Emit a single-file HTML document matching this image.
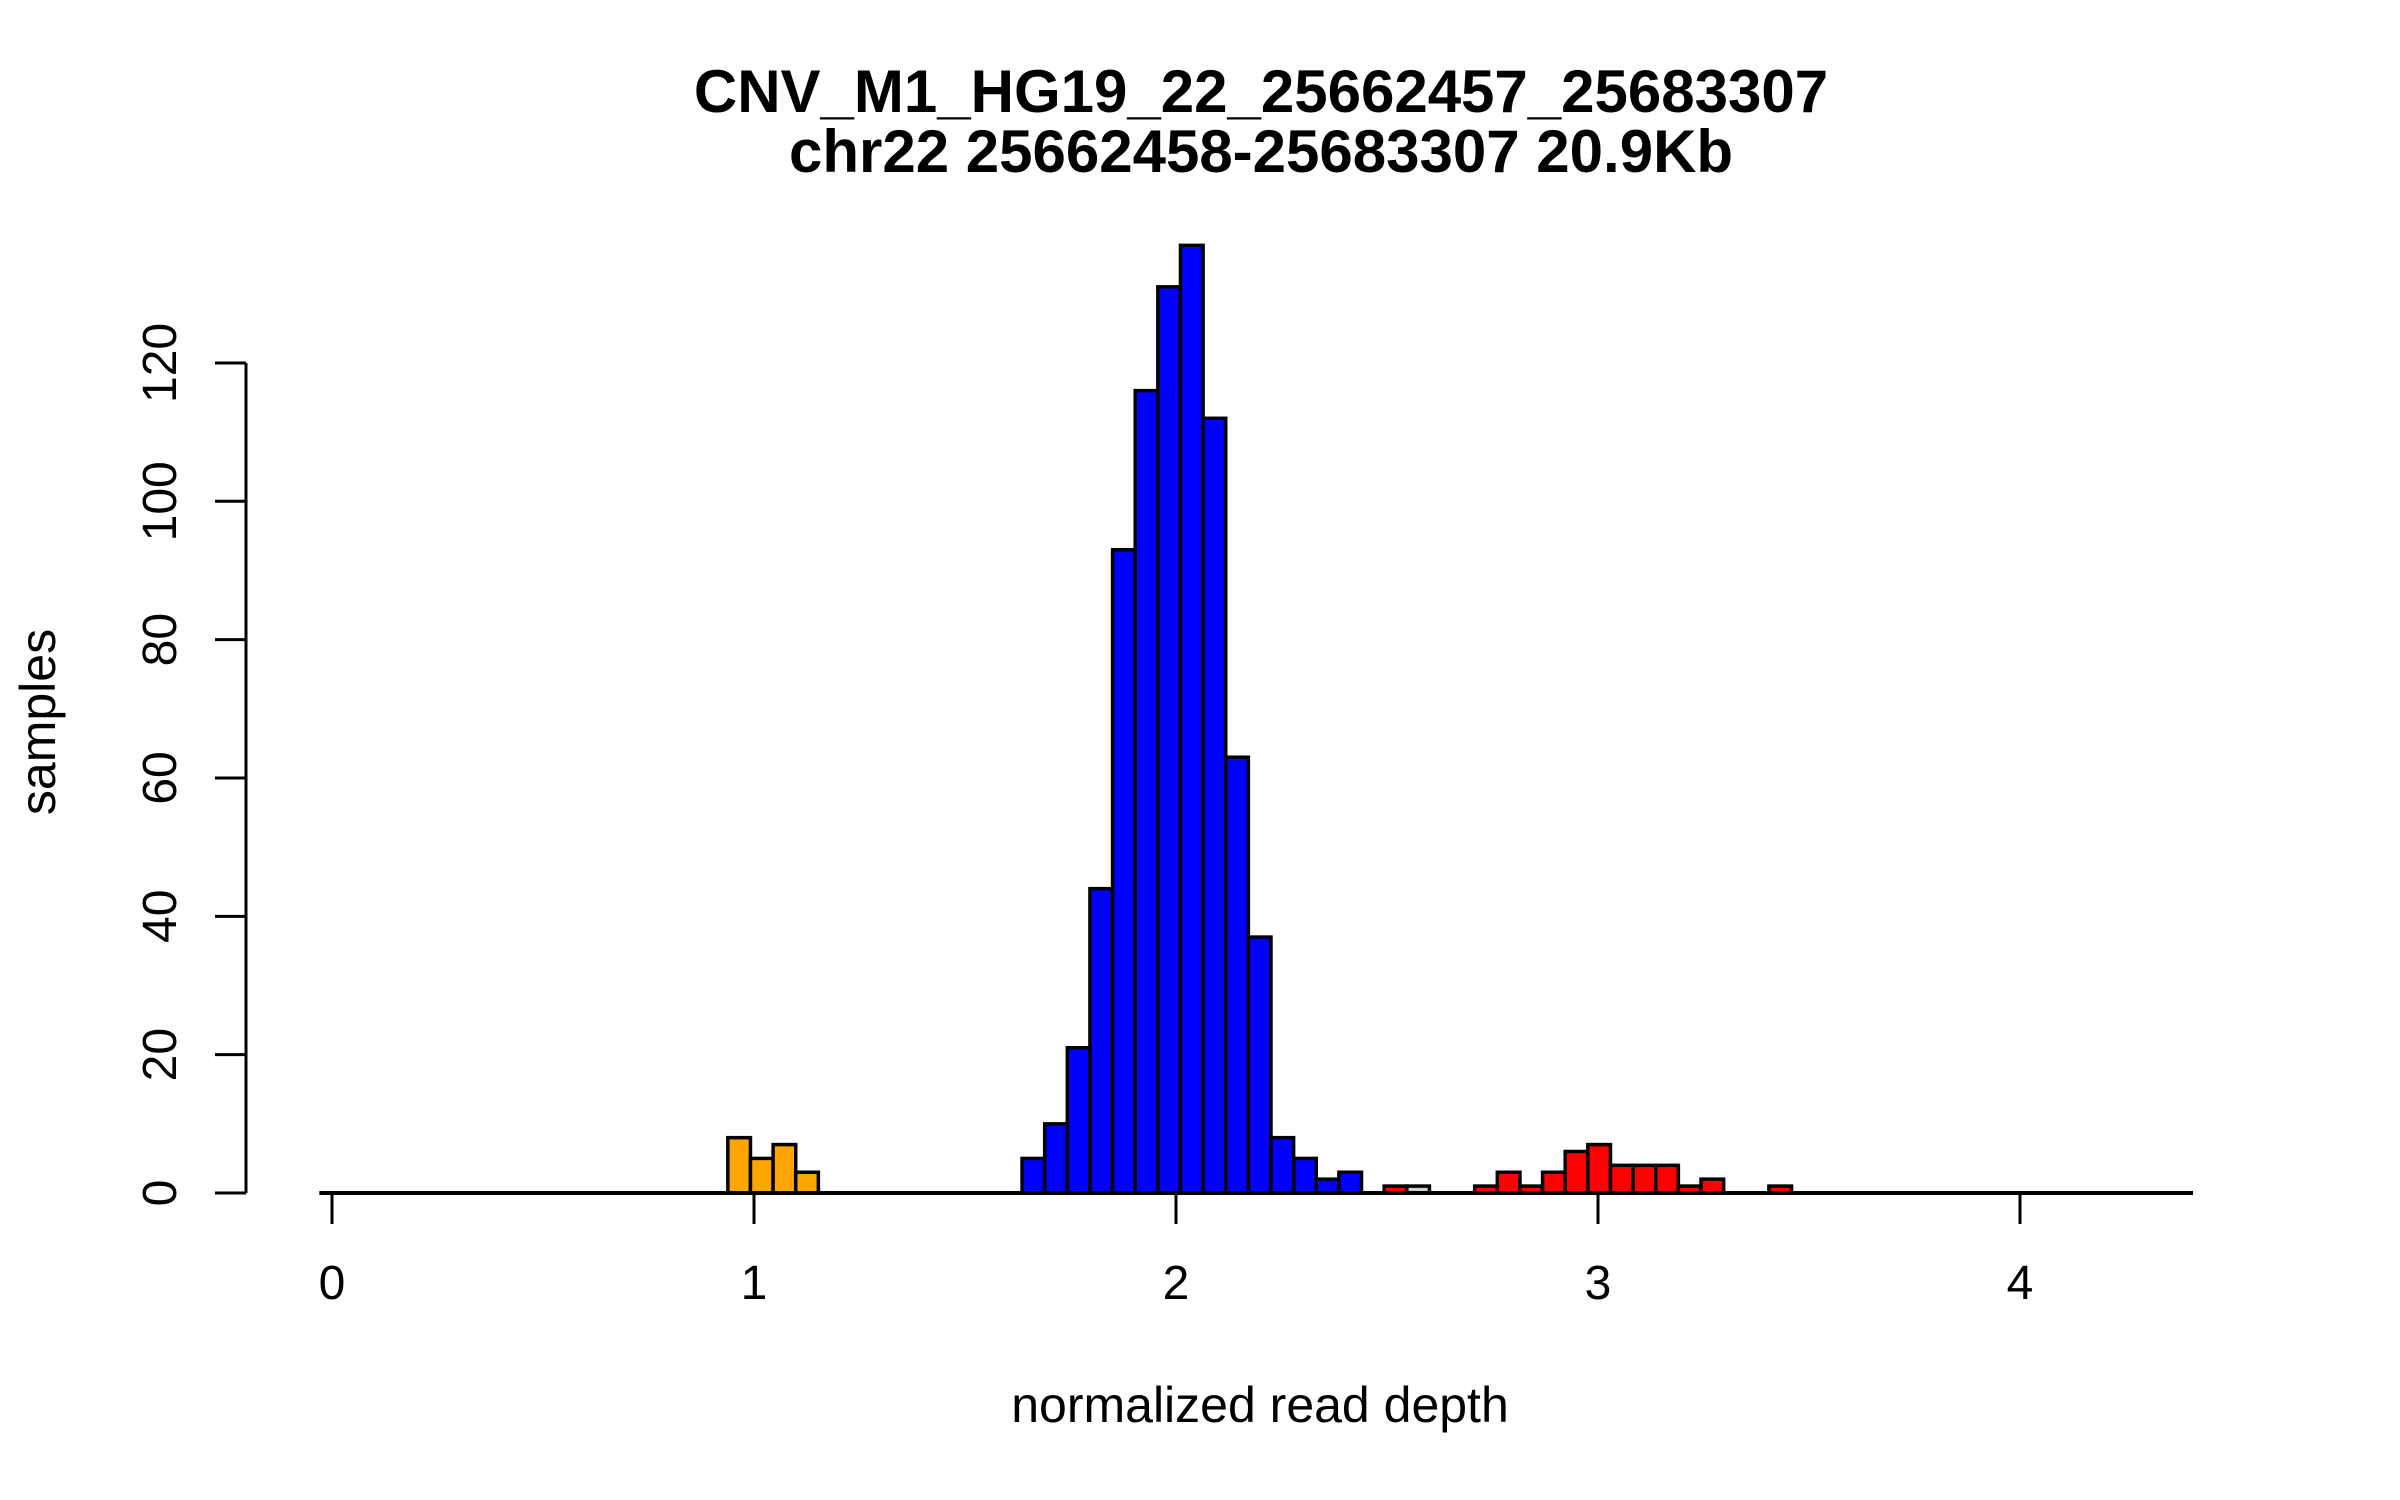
<!DOCTYPE html>
<html><head><meta charset="utf-8"><style>
html,body{margin:0;padding:0;background:#fff;}
svg{display:block;font-family:"Liberation Sans",Arial,sans-serif;}
</style></head><body>
<svg id="chart" width="2400" height="1500" viewBox="0 0 2400 1500" xmlns="http://www.w3.org/2000/svg">
<rect x="0" y="0" width="2400" height="1500" fill="#fff"/>
<text x="1261" y="112" text-anchor="middle" font-size="60" font-weight="bold">CNV_M1_HG19_22_25662457_25683307</text>
<text x="1261" y="172" text-anchor="middle" font-size="60" font-weight="bold">chr22 25662458-25683307 20.9Kb</text>
<text x="1260" y="1422" text-anchor="middle" font-size="50">normalized read depth</text>
<text transform="translate(55,722) rotate(-90)" text-anchor="middle" font-size="50">samples</text>
<g id="bars"></g>
<g id="axes"></g>
</svg>
<script>
const binStart = 0.938;
const binWidth = 0.05363;
const counts = [8,5,7,3,0,0,0,0,0,0,0,0,0,5,10,21,44,93,116,131,137,112,63,37,8,5,2,3,0,1,1,0,0,1,3,1,3,6,7,4,4,4,1,2,0,0,1];
const colors = ["orange","orange","orange","orange","","","","","","","","","","blue","blue","blue","blue","blue","blue","blue","blue","blue","blue","blue","blue","blue","blue","blue","","red","#d3d3d3","","","red","red","red","red","red","red","red","red","red","red","red","","","red"];
const xTicks = [0,1,2,3,4];
const yTicks = [0,20,40,60,80,100,120];
const xMinLine = -0.03, xMaxLine = 4.41;

const NS = "http://www.w3.org/2000/svg";
function xs(v){ return 332 + v * 422; }
function ys(v){ return 1193 - v * 6.917; }
function mk(tag, attrs, parent){
  const e = document.createElementNS(NS, tag);
  for (const k in attrs) e.setAttribute(k, attrs[k]);
  parent.appendChild(e);
  return e;
}
const bars = document.getElementById('bars');
const axes = document.getElementById('axes');

counts.forEach((c, i) => {
  if (c <= 0) return;
  const x0 = xs(binStart + i * binWidth), x1 = xs(binStart + (i + 1) * binWidth);
  const r = mk('rect', {x: x0, y: ys(c), width: x1 - x0, height: ys(0) - ys(c), fill: colors[i] || 'red', stroke: '#000', 'stroke-width': 3.5}, bars);
  
  
});

const xl = mk('line', {x1: xs(xMinLine), x2: xs(xMaxLine), y1: ys(0), y2: ys(0), stroke: '#000', 'stroke-width': 4}, axes);


xTicks.forEach(t => {
  const tk = mk('line', {x1: xs(t), x2: xs(t), y1: ys(0), y2: 1224, stroke: '#000', 'stroke-width': 3}, axes);
  
  
  const lb = mk('text', {x: xs(t), y: 1299, 'text-anchor': 'middle', 'font-size': 48}, axes);
  lb.textContent = t;
  
  
});

const yl = mk('line', {x1: 246, x2: 246, y1: ys(yTicks[0]), y2: ys(yTicks[yTicks.length-1]), stroke: '#000', 'stroke-width': 3}, axes);


yTicks.forEach(t => {
  const tk = mk('line', {x1: 215, x2: 246, y1: ys(t), y2: ys(t), stroke: '#000', 'stroke-width': 3}, axes);
  
  
  const lb = mk('text', {transform: 'translate(176,' + ys(t) + ') rotate(-90)', 'text-anchor': 'middle', 'font-size': 48}, axes);
  lb.textContent = t;
  
  
});
</script>
</body></html>
